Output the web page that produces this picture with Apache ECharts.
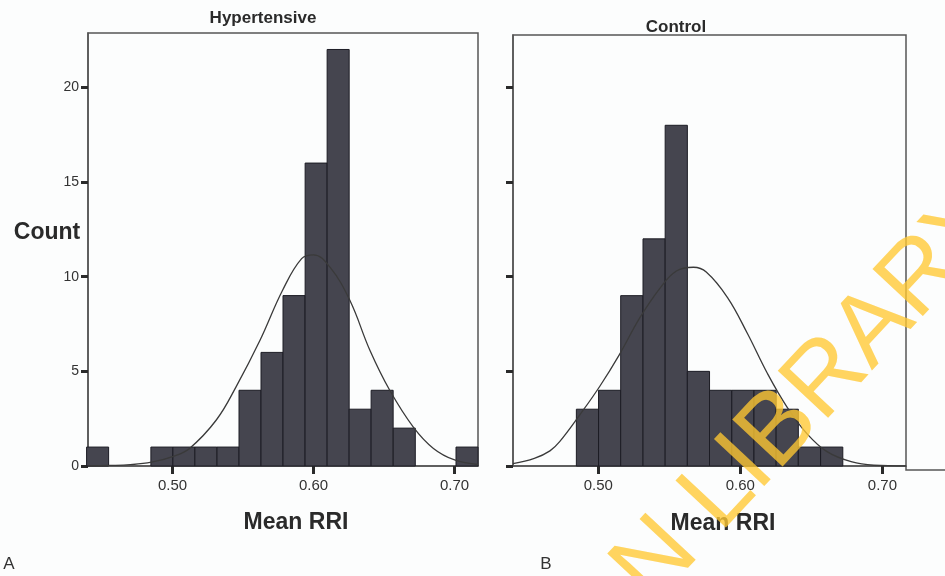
<!DOCTYPE html>
<html>
<head>
<meta charset="utf-8">
<script src="https://cdn.jsdelivr.net/npm/echarts@6/dist/echarts.min.js"></script>
<style>
html,body{margin:0;padding:0;background:#fcfdfd;}
#chart{width:945px;height:576px;}
</style>
</head>
<body>
<div id="chart"></div>
<script>
// ---- data ----
const binWidth = 0.015625;
// Hypertensive histogram: bin left edges and counts
const hyperBinStart = [0.4390, 0.4846, 0.5002, 0.5158, 0.5315, 0.5471, 0.5627, 0.5783, 0.5940, 0.6096, 0.6252, 0.6408, 0.6565, 0.7010];
const hyperCounts   = [1, 1, 1, 1, 1, 4, 6, 9, 16, 22, 3, 4, 2, 1];
// Control histogram
const controlBinStart = [0.4846, 0.5002, 0.5158, 0.5315, 0.5471, 0.5627, 0.5783, 0.5940, 0.6096, 0.6252, 0.6408, 0.6565];
const controlCounts   = [3, 4, 9, 12, 18, 5, 4, 4, 4, 3, 1, 1];
// Normal curves
const hyperCurveX = [0.440, 0.455, 0.470, 0.485, 0.500, 0.512, 0.531, 0.545, 0.562, 0.578, 0.5915, 0.600, 0.6116, 0.6257, 0.640, 0.654, 0.6706, 0.685, 0.700, 0.7166];
const hyperCurveY = [0.01, 0.03, 0.07, 0.2, 0.5, 0.93, 2.43, 4.18, 6.64, 9.28, 10.95, 11.15, 10.5, 8.75, 6.1, 4.0, 2.07, 0.93, 0.32, 0.08];
const controlCurveX = [0.440, 0.455, 0.466, 0.473, 0.487, 0.501, 0.515, 0.529, 0.5435, 0.555, 0.567, 0.576, 0.591, 0.605, 0.619, 0.633, 0.647, 0.661, 0.678, 0.694, 0.7166];
const controlCurveY = [0.12, 0.4, 0.8, 1.3, 2.7, 4.2, 5.9, 7.8, 9.4, 10.3, 10.5, 10.25, 8.9, 7.0, 4.9, 3.1, 1.7, 0.76, 0.23, 0.04, 0.0];
// axes
const xMin = 0.44, xMax = 0.7166;
const xTicks = [0.50, 0.60, 0.70];
const yTicks = [0, 5, 10, 15, 20];
const titles = ['Hypertensive', 'Control'];

const FONT = "'Liberation Sans', Arial, Helvetica, sans-serif";
const chart = echarts.init(document.getElementById('chart'), null, {renderer: 'canvas'});

function histItems(starts, counts) {
  return starts.map((s, i) => [s, counts[i]]);
}
function curveItems(xs, ys) {
  return xs.map((x, i) => [x, ys[i]]);
}
function renderBin(params, api) {
  const s = api.value(0), c = api.value(1);
  const p0 = api.coord([s, c]);
  const p1 = api.coord([s + binWidth, 0]);
  return {
    type: 'rect',
    shape: {x: p0[0], y: p0[1], width: p1[0] - p0[0], height: p1[1] - p0[1]},
    style: {fill: '#45454f', stroke: '#1c1c24', lineWidth: 1}
  };
}

function xAxisCfg(gi) {
  return {
    type: 'value', gridIndex: gi, min: xMin, max: xMax,
    splitLine: {show: false},
    axisLine: {show: true, onZero: false, lineStyle: {color: '#555', width: 1.5}},
    axisTick: {show: true, customValues: xTicks, length: 8, lineStyle: {color: '#2a2a2a', width: 3}},
    axisLabel: {show: true, customValues: xTicks, formatter: v => v.toFixed(2), fontSize: 15, color: '#333', margin: 12, fontFamily: FONT}
  };
}
function yAxisCfg(gi, max, labels) {
  return {
    type: 'value', gridIndex: gi, min: 0, max: max,
    splitLine: {show: false},
    axisLine: {show: true, lineStyle: {color: '#555', width: 1.5}},
    axisTick: {show: true, customValues: yTicks, length: 7, lineStyle: {color: '#2a2a2a', width: 3}},
    axisLabel: {show: labels, customValues: yTicks, fontSize: 14, color: '#333', margin: 9, fontFamily: FONT}
  };
}

const option = {
  backgroundColor: '#fcfdfd',
  animation: false,
  grid: [
    {left: 88, top: 33, width: 390, height: 433, show: true, borderColor: '#555', borderWidth: 1.5, backgroundColor: 'transparent'},
    {left: 513, top: 35, width: 393, height: 431, show: true, borderColor: '#555', borderWidth: 1.5, backgroundColor: 'transparent'}
  ],
  xAxis: [xAxisCfg(0), xAxisCfg(1)],
  yAxis: [yAxisCfg(0, 22.87, true), yAxisCfg(1, 22.77, false)],
  series: [
    {type: 'custom', xAxisIndex: 0, yAxisIndex: 0, renderItem: renderBin, data: histItems(hyperBinStart, hyperCounts), z: 2},
    {type: 'custom', xAxisIndex: 1, yAxisIndex: 1, renderItem: renderBin, data: histItems(controlBinStart, controlCounts), z: 2},
    {type: 'line', xAxisIndex: 0, yAxisIndex: 0, data: curveItems(hyperCurveX, hyperCurveY), smooth: 0.4, showSymbol: false, lineStyle: {color: '#3a3a3a', width: 1.3}, z: 3},
    {type: 'line', xAxisIndex: 1, yAxisIndex: 1, data: curveItems(controlCurveX, controlCurveY), smooth: 0.4, showSymbol: false, lineStyle: {color: '#3a3a3a', width: 1.3}, z: 3}
  ],
  graphic: [
    {type: 'text', x: 263, y: 18, style: {text: titles[0], fontSize: 17, fontWeight: 'bold', fontFamily: FONT, fill: '#2a2a2a', textAlign: 'center', textVerticalAlign: 'middle', verticalAlign: 'middle'}},
    {type: 'text', x: 676, y: 27, style: {text: titles[1], fontSize: 17, fontWeight: 'bold', fontFamily: FONT, fill: '#2a2a2a', textAlign: 'center', textVerticalAlign: 'middle', verticalAlign: 'middle'}},
    {type: 'text', x: 47, y: 233, style: {text: 'Count', fontSize: 23, fontWeight: 'bold', fontFamily: FONT, fill: '#2a2a2a', textAlign: 'center', textVerticalAlign: 'middle', verticalAlign: 'middle'}},
    {type: 'text', x: 296, y: 523, style: {text: 'Mean RRI', fontSize: 23, fontWeight: 'bold', fontFamily: FONT, fill: '#2a2a2a', textAlign: 'center', textVerticalAlign: 'middle', verticalAlign: 'middle'}},
    {type: 'text', x: 723, y: 524, style: {text: 'Mean RRI', fontSize: 23, fontWeight: 'bold', fontFamily: FONT, fill: '#2a2a2a', textAlign: 'center', textVerticalAlign: 'middle', verticalAlign: 'middle'}},
    {type: 'text', x: 9, y: 564, style: {text: 'A', fontSize: 17, fontFamily: FONT, fill: '#333', textAlign: 'center', textVerticalAlign: 'middle', verticalAlign: 'middle'}},
    {type: 'text', x: 546, y: 564, style: {text: 'B', fontSize: 17, fontFamily: FONT, fill: '#333', textAlign: 'center', textVerticalAlign: 'middle', verticalAlign: 'middle'}},
    {type: 'polyline', shape: {points: [[906, 466], [906, 470], [945, 470]]}, style: {stroke: '#555', lineWidth: 1.5, fill: null}},
    // watermark
    {type: 'text', x: 700, y: 514.6, rotation: 47 * Math.PI / 180, z: 100, style: {text: 'LIBRARY', fontSize: 100, fontFamily: FONT, fill: 'rgba(255,200,50,0.78)', textAlign: 'left', textVerticalAlign: 'middle', verticalAlign: 'middle'}},
    {type: 'text', x: 681, y: 535, rotation: 47 * Math.PI / 180, z: 100, style: {text: 'UNIVERSITY OF IBADAN', fontSize: 100, fontFamily: FONT, fill: 'rgba(255,200,50,0.78)', textAlign: 'right', textVerticalAlign: 'middle', verticalAlign: 'middle'}}
  ]
};
chart.setOption(option);
</script>
</body>
</html>
